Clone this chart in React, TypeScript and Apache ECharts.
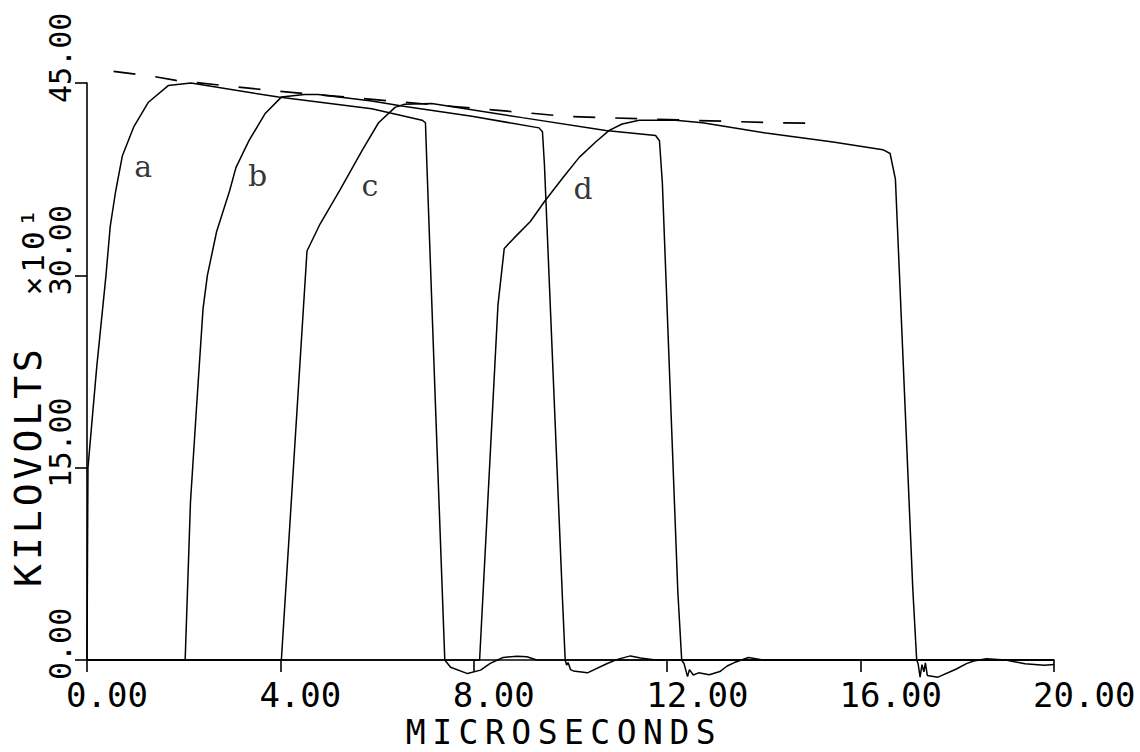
import React, { useEffect, useRef } from "react";
import * as echarts from "echarts";

// Axis ticks
const xTickValues = [0, 4, 8, 12, 16, 20];
const yTickValues = [0, 15, 30, 45];

// Curves: [microseconds, kilovolts x10]
const curveA: [number, number][] = [
  [0, 0], [0.01, 8.0], [0.02, 15.0], [0.2, 22.8], [0.39, 29.9], [0.48, 33.8], [0.59, 36.5],
  [0.73, 39.3], [0.97, 41.6], [1.27, 43.5], [1.68, 44.8], [2.15, 45.0], [3.96, 43.9],
  [5.89, 43.0], [6.93, 42.1], [7.0, 41.9], [7.03, 38.6], [7.2, 20.6], [7.4, 0],
  [7.52, -0.56], [7.87, -1.06], [8.14, -0.79], [8.34, -0.26], [8.49, 0], [8.61, 0.2],
  [8.9, 0.3], [9.1, 0.25], [9.3, 0], [20, 0],
];

const curveB: [number, number][] = [
  [0, 0], [2.03, 0], [2.14, 12.3], [2.26, 19.4], [2.4, 27.4], [2.49, 30.0], [2.68, 33.4],
  [2.95, 36.6], [3.08, 38.4], [3.35, 40.5], [3.68, 42.6], [4.02, 43.9], [4.5, 44.1],
  [4.78, 44.1], [5.89, 43.6], [6.51, 43.2], [7.96, 42.4], [9.35, 41.5], [9.42, 41.2],
  [9.46, 38.7], [9.83, 5.1], [9.89, 0], [9.92, -0.4], [9.95, -0.2], [10.0, -0.75],
  [10.06, -0.85], [10.35, -1.0], [10.76, -0.27], [10.97, 0.05], [11.24, 0.32],
  [11.45, 0.15], [11.76, 0], [20, 0],
];

const curveC: [number, number][] = [
  [0, 0], [4.02, 0], [4.55, 31.9], [4.82, 34.0], [5.23, 36.65], [5.7, 39.8], [6.03, 41.9],
  [6.37, 43.1], [6.57, 43.35], [7.13, 43.4], [9.0, 42.3], [10.73, 41.3], [11.76, 40.9],
  [11.84, 40.5], [11.9, 37.2], [12.22, 5.3], [12.3, 0], [12.35, -0.3], [12.42, -1.3],
  [12.46, -0.75], [12.54, -1.17], [12.65, -1.0], [12.87, -1.15], [13.09, -0.9],
  [13.24, -0.47], [13.39, -0.2], [13.68, 0.2], [13.98, 0], [20, 0],
];

const curveD: [number, number][] = [
  [0, 0], [8.12, 0], [8.5, 27.7], [8.63, 32.1], [8.83, 32.9], [9.17, 34.2], [9.47, 35.8],
  [9.85, 37.65], [10.18, 39.2], [10.52, 40.4], [10.8, 41.3], [11.07, 41.8], [11.42, 42.1],
  [12.17, 42.1], [12.73, 41.9], [14.04, 41.1], [15.43, 40.4], [16.46, 39.8], [16.61, 39.5],
  [16.72, 37.5], [17.08, 5.5], [17.16, 0], [17.19, -0.3], [17.23, -1.34], [17.27, -0.36],
  [17.31, -0.92], [17.34, -0.22], [17.38, -1.2], [17.6, -1.34], [17.97, -0.72],
  [18.19, -0.28], [18.34, -0.08], [18.6, 0.1], [19.0, 0], [19.4, -0.3], [19.8, -0.4],
  [20, -0.35],
];

// Dashed envelope
const envelope: [number, number][] = [
  [0.55, 45.9], [1.39, 45.5], [1.84, 45.2], [3.83, 44.4], [9.31, 42.6], [9.89, 42.4],
  [10.65, 42.3], [13.31, 42.0], [14.28, 41.9], [15.25, 41.86],
];

// Curve letters
const curveNames = ["a", "b", "c", "d"];
const curveNamePos: [number, number][] = [
  [1.16, 38.5], [3.53, 37.8], [5.85, 37.0], [10.26, 36.8],
];

const xAxisTitle = "MICROSECONDS";
const yAxisTitle = "KILOVOLTS";
const yAxisScale = "\u00d710\u00b9";

const MONO = '"DejaVu Sans Mono", "Liberation Mono", monospace';

export default function App() {
  const ref = useRef<HTMLDivElement>(null);

  useEffect(() => {
    if (!ref.current) return;
    const chart = echarts.init(ref.current, undefined, { renderer: "svg" });
    const lineSeries = (name: string, data: [number, number][]) => ({
      name,
      type: "line",
      data,
      showSymbol: false,
      symbol: "none",
      silent: true,
      clip: false,
      lineStyle: { color: "#000", width: 1.5 },
      z: 3,
    });
    chart.setOption({
      animation: false,
      backgroundColor: "#ffffff",
      grid: { left: 87, right: 86, top: 83, bottom: 92 },
      xAxis: {
        type: "value",
        min: 0,
        max: 20,
        interval: 4,
        axisLine: { show: true, onZero: false, lineStyle: { color: "#000", width: 1.6 } },
        axisTick: { show: true, length: 12, lineStyle: { color: "#000", width: 1.6 } },
        splitLine: { show: false },
        axisLabel: {
          color: "#000",
          fontFamily: MONO,
          fontSize: 34,
          align: "left",
          verticalAlign: "top",
          margin: 18,
          padding: [0, 0, 0, -21],
          formatter: (v: number) => (xTickValues.includes(v) ? v.toFixed(2) : ""),
        },
      },
      yAxis: {
        type: "value",
        min: 0,
        max: 45,
        interval: 15,
        axisLine: { show: true, onZero: false, lineStyle: { color: "#000", width: 1.6 } },
        axisTick: { show: true, length: 12, lineStyle: { color: "#000", width: 1.6 } },
        splitLine: { show: false },
        axisLabel: {
          color: "#000",
          fontFamily: MONO,
          fontSize: 30,
          rotate: 90,
          align: "left",
          verticalAlign: "middle",
          margin: 27,
          padding: [0, 0, 0, -20],
          formatter: (v: number) => (yTickValues.includes(v) ? v.toFixed(2) : ""),
        },
      },
      series: [
        lineSeries("a", curveA),
        lineSeries("b", curveB),
        lineSeries("c", curveC),
        lineSeries("d", curveD),
        {
          name: "envelope",
          type: "line",
          data: envelope,
          showSymbol: false,
          symbol: "none",
          silent: true,
          clip: false,
          lineStyle: { color: "#000", width: 1.7, type: [22, 20] },
          z: 2,
        },
        {
          name: "labels",
          type: "scatter",
          symbolSize: 0,
          silent: true,
          data: curveNames.map((n, i) => ({ name: n, value: curveNamePos[i] })),
          label: {
            show: true,
            position: "inside",
            formatter: "{b}",
            color: "#000",
            fontFamily: '"DejaVu Serif", serif',
            fontSize: 30,
          },
        },
      ],
      graphic: [
        {
          type: "text",
          x: 564,
          y: 732,
          silent: true,
          style: {
            text: xAxisTitle,
            font: `33px ${MONO}`,
            fill: "#000",
            textAlign: "center",
            textVerticalAlign: "middle",
          },
        },
        {
          type: "text",
          x: 28,
          y: 466,
          rotation: Math.PI / 2,
          silent: true,
          style: {
            text: yAxisTitle,
            font: `38px ${MONO}`,
            fill: "#000",
            textAlign: "center",
            textVerticalAlign: "middle",
          },
        },
        {
          type: "text",
          x: 33,
          y: 250,
          rotation: Math.PI / 2,
          silent: true,
          style: {
            text: yAxisScale,
            font: `31px ${MONO}`,
            fill: "#000",
            textAlign: "center",
            textVerticalAlign: "middle",
          },
        },
      ],
    });

    const spacing: Record<string, string> = {
      [xAxisTitle]: "6.5",
      [yAxisTitle]: "4",
      [yAxisScale]: "4",
    };
    const applySpacing = () => {
      const el = ref.current;
      if (!el) return;
      el.querySelectorAll("text").forEach((t) => {
        const s = (t.textContent || "").trim();
        if (spacing[s]) t.setAttribute("letter-spacing", spacing[s]);
      });
    };
    applySpacing();
    chart.on("finished", applySpacing);

    return () => {
      chart.dispose();
    };
  }, []);

  return (
    <div
      ref={ref}
      style={{ position: "absolute", left: 0, top: 0, width: 1140, height: 752, background: "#fff" }}
    />
  );
}
